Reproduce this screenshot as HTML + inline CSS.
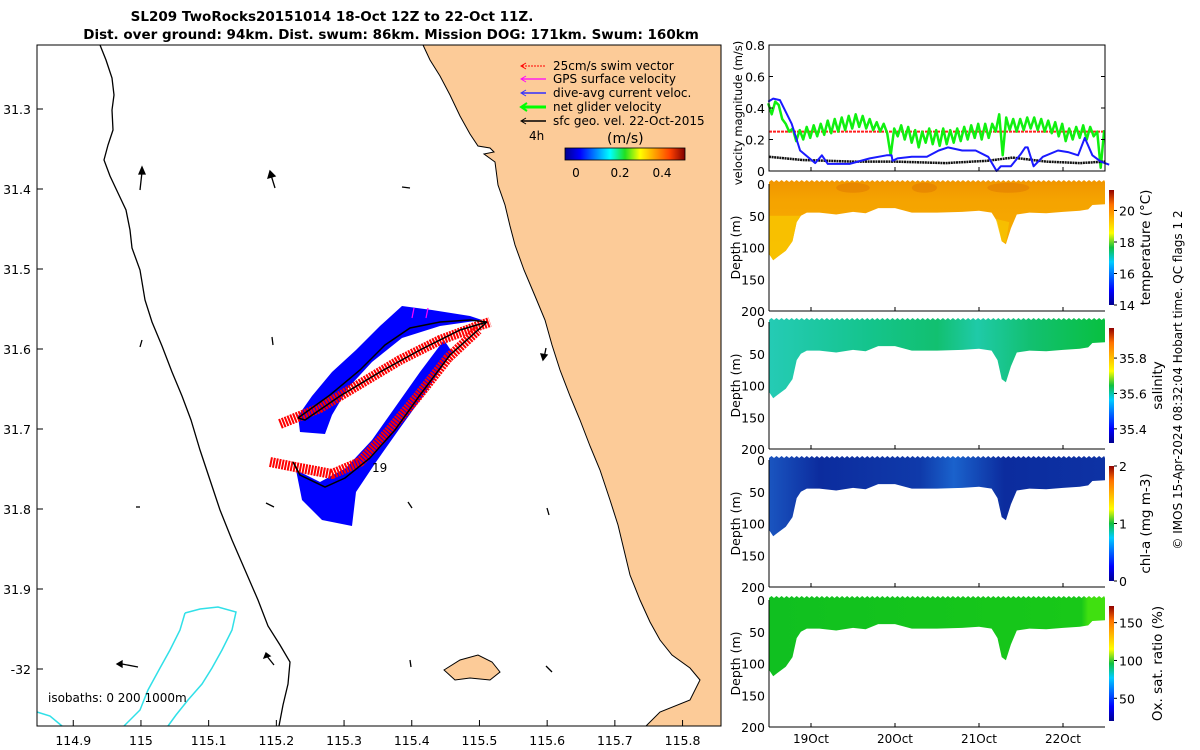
<!DOCTYPE html>
<html><head><meta charset="utf-8">
<style>
html,body{margin:0;padding:0;background:#fff;}
svg{display:block;font-family:"DejaVu Sans","Liberation Sans",sans-serif;}
</style></head>
<body>
<svg id="fig" width="1200" height="750" viewBox="0 0 1200 750">
<defs>
<linearGradient id="jet" x1="0" y1="0" x2="1" y2="0">
<stop offset="0" stop-color="#00008f"/><stop offset="0.125" stop-color="#0000ff"/><stop offset="0.375" stop-color="#00ffff"/><stop offset="0.5" stop-color="#20e020"/><stop offset="0.625" stop-color="#ffff00"/><stop offset="0.875" stop-color="#ff4000"/><stop offset="1" stop-color="#800000"/>
</linearGradient>
<linearGradient id="jetv" x1="0" y1="1" x2="0" y2="0">
<stop offset="0" stop-color="#00008f"/><stop offset="0.125" stop-color="#0000ff"/><stop offset="0.375" stop-color="#00ccff"/><stop offset="0.5" stop-color="#10c040"/><stop offset="0.625" stop-color="#ffff00"/><stop offset="0.875" stop-color="#ff7000"/><stop offset="1" stop-color="#900000"/>
</linearGradient>
<linearGradient id="gTemp" x1="0" y1="0" x2="0" y2="1"><stop offset="0" stop-color="#f09500"/><stop offset="0.25" stop-color="#f5a300"/><stop offset="1" stop-color="#f7ae00"/></linearGradient>
<linearGradient id="gSal" x1="0" y1="0" x2="1" y2="0"><stop offset="0" stop-color="#25cbb5"/><stop offset="0.3" stop-color="#14c48c"/><stop offset="0.5" stop-color="#12c070"/><stop offset="0.62" stop-color="#1fcaa8"/><stop offset="0.78" stop-color="#12c070"/><stop offset="1" stop-color="#08c040"/></linearGradient>
<linearGradient id="gChl" x1="0" y1="0" x2="1" y2="0"><stop offset="0" stop-color="#1a55c0"/><stop offset="0.15" stop-color="#0c2c9e"/><stop offset="0.45" stop-color="#0f3aaa"/><stop offset="0.55" stop-color="#1a62cc"/><stop offset="0.7" stop-color="#0c2c9e"/><stop offset="1" stop-color="#0d32a4"/></linearGradient>
<linearGradient id="gOx" x1="0" y1="0" x2="1" y2="0"><stop offset="0" stop-color="#10c020"/><stop offset="0.93" stop-color="#18c818"/><stop offset="0.95" stop-color="#40e010"/><stop offset="1" stop-color="#40e010"/></linearGradient>
</defs>

<text x="332" y="21" text-anchor="middle" font-size="13.5" font-weight="bold">SL209 TwoRocks20151014 18-Oct 12Z to 22-Oct 11Z.</text>
<text x="391" y="39" text-anchor="middle" font-size="13.5" font-weight="bold">Dist. over ground: 94km. Dist. swum: 86km. Mission DOG: 171km. Swum: 160km</text>

<g id="map">
<rect x="37" y="45" width="684" height="681" fill="#fff"/>
<path fill="#fccb98" stroke="#000" stroke-width="1" d="M423,45 L430,60 L440,76 L450,95 L460,116 L470,134 L478,146 L490,148 L494,152 L484,154 L495,162 L498,185 L505,205 L510,226 L515,245 L524,270 L535,296 L545,320 L552,345 L560,370 L570,396 L580,420 L590,446 L600,470 L610,500 L618,525 L624,550 L630,575 L640,600 L650,622 L660,640 L672,655 L690,668 L700,680 L690,700 L660,712 L646,726 L721,726 L721,45 Z"/>
<path fill="#fccb98" stroke="#000" stroke-width="1" d="M444,670 L460,660 L478,655 L492,662 L500,672 L490,680 L470,678 L455,680 Z"/>
<path fill="none" stroke="#000" stroke-width="1.3" d="M100,45 L106,60 L112,78 L114,95 L112,110 L113,130 L108,145 L104,160 L110,176 L118,193 L126,210 L130,230 L132,248 L140,270 L145,300 L152,322 L162,346 L172,372 L182,396 L191,420 L200,450 L210,480 L220,510 L232,540 L245,570 L258,600 L268,626 L280,645 L290,662 L288,684 L283,705 L279,726"/>
<path fill="none" stroke="#30e0e8" stroke-width="1.5" d="M185,613 L200,609 L218,607 L236,612 L232,630 L222,650 L212,668 L202,684 L188,700 L176,715 L168,726"/>
<path fill="none" stroke="#30e0e8" stroke-width="1.5" d="M185,613 L180,630 L170,650 L160,668 L148,690 L140,710 L124,726 M37,712 L50,716 L62,726"/>
<path fill="#0000ff" d="M300,432 L325,434 L332,415 L348,388 L372,362 L402,338 L440,326 L482,320 L470,316 L432,310 L402,306 L380,326 L356,350 L332,372 L312,396 L298,416 Z"/>
<path fill="#0000ff" d="M296,470 L302,500 L322,520 L352,526 L356,492 L376,462 L400,428 L426,392 L452,352 L444,340 L420,372 L396,406 L372,440 L346,468 L320,482 Z"/>
<path fill="none" stroke="#ff0000" stroke-width="10" stroke-dasharray="2,1" stroke-linejoin="round" d="M280,424 L320,408 L360,384 L400,360 L440,340 L478,326 L490,322"/>
<path fill="none" stroke="#ff0000" stroke-width="10" stroke-dasharray="2,1" stroke-linejoin="round" d="M270,462 L300,468 L332,474 L360,462 L388,432 L418,396 L448,358 L478,330"/>
<path fill="none" stroke="#000" stroke-width="1.5" d="M298,418 L330,395 L360,370 L385,345 L410,328 L440,322 L470,320 L487,322 L460,330 L420,350 L380,372 L340,396 L305,420 L298,418 M487,322 L450,355 L420,395 L395,430 L370,458 L345,478 L325,487 L300,475 L293,462"/>
<text x="372" y="472" font-size="12">19</text>
<path stroke="#ff00ff" stroke-width="1.2" fill="none" d="M412,318 L414,308 M426,318 L428,308"/>
<g stroke="#000" stroke-width="1.3" fill="#000">
<line x1="140" y1="190" x2="142" y2="172"/><polygon points="139,174 142,167 145,174"/>
<line x1="275" y1="188" x2="271" y2="175"/><polygon points="268,178 270,171 275,176"/>
<line x1="402" y1="187" x2="410" y2="188"/>
<line x1="140" y1="347" x2="142" y2="340"/>
<line x1="273" y1="345" x2="272" y2="337"/>
<line x1="544" y1="358" x2="546" y2="348"/><polygon points="541,354 543,360 547,355"/>
<line x1="136" y1="507" x2="140" y2="507"/>
<line x1="266" y1="503" x2="274" y2="507"/>
<line x1="408" y1="502" x2="412" y2="508"/>
<line x1="547" y1="508" x2="549" y2="515"/>
<line x1="410" y1="660" x2="411" y2="667"/>
<line x1="266" y1="655" x2="274" y2="665"/><polygon points="264,658 266,653 270,656"/>
<line x1="122" y1="664" x2="138" y2="667"/><polygon points="122,661 117,664 122,667"/>
<line x1="546" y1="666" x2="552" y2="672"/>
</g>
<text x="48" y="702" font-size="12">isobaths: 0   200  1000m</text>
<g font-size="12">
<line x1="522" y1="66" x2="546" y2="66" stroke="#ff0000" stroke-dasharray="2,1"/><polyline points="526,63 521,66 526,69" fill="none" stroke="#ff0000"/><text x="553" y="70">25cm/s swim vector</text>
<line x1="522" y1="79" x2="546" y2="79" stroke="#ff00ff" stroke-width="1.2"/><polyline points="526,76 521,79 526,82" fill="none" stroke="#ff00ff"/><text x="553" y="83">GPS surface velocity</text>
<line x1="522" y1="93" x2="546" y2="93" stroke="#3030ff" stroke-width="1.5"/><polyline points="526,90 521,93 526,96" fill="none" stroke="#3030ff"/><text x="553" y="97">dive-avg current veloc.</text>
<line x1="522" y1="107" x2="546" y2="107" stroke="#00ff00" stroke-width="3"/><polyline points="527,103 521,107 527,111" fill="none" stroke="#00ff00" stroke-width="2"/><text x="553" y="111">net glider velocity</text>
<line x1="522" y1="121" x2="546" y2="121" stroke="#000" stroke-width="1.5"/><polyline points="526,118 521,121 526,124" fill="none" stroke="#000"/><text x="553" y="125">sfc geo. vel. 22-Oct-2015</text>
<text x="529" y="140">4h</text>
<text x="607" y="143" font-size="14">(m/s)</text>
<rect x="565" y="148" width="120" height="12" fill="url(#jet)" stroke="#000" stroke-width="0.8"/>
<text x="576" y="177" text-anchor="middle">0</text><text x="620" y="177" text-anchor="middle">0.2</text><text x="662" y="177" text-anchor="middle">0.4</text>
</g>
<rect x="37" y="45" width="684" height="681" fill="none" stroke="#000" stroke-width="1"/>
<g id="mapTicks"></g>
</g>

<text transform="translate(1182,380) rotate(-90)" text-anchor="middle" font-size="12">© IMOS 15-Apr-2024 08:32:04 Hobart time. QC flags 1  2</text>

<g id="vel"></g>
<g id="secs"></g>
</svg>

<script>
const mapLonTicks=[114.9,115,115.1,115.2,115.3,115.4,115.5,115.6,115.7,115.8];
const mapLonLabels=["114.9","115","115.1","115.2","115.3","115.4","115.5","115.6","115.7","115.8"];
const mapLatTicks=[31.3,31.4,31.5,31.6,31.7,31.8,31.9,32.0];
const mapLatLabels=["31.3","31.4","31.5","31.6","31.7","31.8","31.9","-32"];

const velTicks=[0,0.2,0.4,0.6,0.8];
const velTickLabels=["0","0.2","0.4","0.6","0.8"];
const blueT=[18.49,18.55,18.63,18.77,18.87,19.05,19.13,19.2,19.46,19.7,19.9,19.96,19.97,20.03,20.2,20.38,20.52,20.63,20.8,20.96,21.11,21.21,21.26,21.38,21.5,21.55,21.58,21.65,21.76,21.94,22.06,22.18,22.26,22.35,22.45,22.55];
const blueV=[0.44,0.46,0.45,0.30,0.13,0.05,0.10,0.045,0.045,0.08,0.10,0.10,0.065,0.08,0.09,0.09,0.13,0.15,0.13,0.13,0.09,0.0,0.03,0.03,0.11,0.15,0.15,0.03,0.09,0.13,0.12,0.10,0.21,0.10,0.06,0.04];
const blackT=[18.5,18.9,19.5,20.0,20.6,21.1,21.4,21.8,22.2,22.5];
const blackV=[0.09,0.07,0.06,0.06,0.05,0.065,0.085,0.06,0.05,0.06];
const redT=[18.5,22.5];
const redV=[0.25,0.25];
const greenV=[0.43,0.36,0.44,0.42,0.33,0.3,0.25,0.27,0.19,0.26,0.2,0.28,0.21,0.29,0.22,0.3,0.23,0.32,0.24,0.33,0.25,0.34,0.26,0.35,0.27,0.36,0.28,0.35,0.27,0.33,0.26,0.31,0.25,0.3,0.24,0.1,0.27,0.22,0.29,0.2,0.28,0.18,0.26,0.15,0.25,0.18,0.27,0.17,0.26,0.16,0.27,0.17,0.26,0.18,0.27,0.19,0.28,0.2,0.29,0.21,0.3,0.2,0.3,0.21,0.3,0.25,0.36,0.1,0.34,0.26,0.33,0.25,0.33,0.26,0.34,0.27,0.34,0.26,0.33,0.25,0.32,0.24,0.31,0.22,0.3,0.19,0.27,0.2,0.28,0.21,0.29,0.2,0.28,0.22,0.25,0.02,0.26];
const greenStart=18.49, greenEnd=22.49;

const dayTicks=[19,20,21,22];
const dayLabels=["19Oct","20Oct","21Oct","22Oct"];
const depthTicks=[0,50,100,150,200];
const depT=[18.5,18.55,18.6,18.7,18.78,18.83,18.88,18.95,19.1,19.3,19.5,19.65,19.8,20.0,20.2,20.5,20.8,21.0,21.15,21.22,21.27,21.32,21.38,21.45,21.6,21.8,22.0,22.2,22.3,22.35,22.5];
const depB=[110,120,115,105,90,60,50,45,45,48,44,46,38,38,45,45,44,42,45,60,90,95,70,48,45,46,44,42,40,33,32];

const cbTemp=[14,16,18,20], cbTempRange=[14,21.3];
const cbSal=[35.4,35.6,35.8], cbSalRange=[35.32,35.97];
const cbChl=[0,1,2], cbChlRange=[0,2];
const cbOx=[50,100,150], cbOxRange=[20,172];

const NS="http://www.w3.org/2000/svg";
function mk(tag,parent,attrs){const e=document.createElementNS(NS,tag);for(const k in attrs)e.setAttribute(k,attrs[k]);parent.appendChild(e);return e;}
const lonX=l=>36.7+(l-114.846)/0.1*67.7;
const latY=a=>109+(a-31.3)/0.1*80;
const tX=t=>769+(t-18.5)*84;

const mt=document.getElementById('mapTicks');
mapLonTicks.forEach((l,i)=>{const x=lonX(l);
 const tk=mk('line',mt,{x1:x,y1:726,x2:x,y2:720,stroke:'#000'});
 
 
 const tx=mk('text',mt,{x:x,y:745,'text-anchor':'middle','font-size':12.5});tx.textContent=mapLonLabels[i];
 
 
});
mapLatTicks.forEach((a,i)=>{const y=latY(a);
 const tk=mk('line',mt,{x1:37,y1:y,x2:43,y2:y,stroke:'#000'});
 
 
 const tx=mk('text',mt,{x:31,y:y+5,'text-anchor':'end','font-size':12.5});tx.textContent=mapLatLabels[i];
 
 
});

const vg=document.getElementById('vel');
const vTop=45,vBot=171;
const vY=v=>vBot-v/0.8*(vBot-vTop);
mk('rect',vg,{x:769,y:vTop,width:336,height:vBot-vTop,fill:'#fff'});
function poly(ts,vs,color,w,name,dash){
 const pts=ts.map((t,i)=>tX(t).toFixed(1)+','+vY(vs[i]).toFixed(1)).join(' ');
 const p=mk('polyline',vg,{points:pts,fill:'none',stroke:color,'stroke-width':w,'stroke-linejoin':'round'});
 if(dash)p.setAttribute('stroke-dasharray',dash);
 
 
}
poly(redT,redV,'#ff2020',2,'swim-speed-line','3,1');
const greenT=greenV.map((v,i)=>greenStart+i*(greenEnd-greenStart)/(greenV.length-1));
poly(greenT,greenV,'#10f010',2.5,'net-glider-velocity-line');
poly(blackT,blackV,'#111',2.5,'geostrophic-velocity-line','2,0.6');
poly(blueT,blueV,'#1a1aff',2,'dive-avg-current-line');
const vf=mk('rect',vg,{x:769,y:vTop,width:336,height:vBot-vTop,fill:'none',stroke:'#000'});


velTicks.forEach((v,i)=>{const y=vY(v);
 mk('line',vg,{x1:769,y1:y,x2:773,y2:y,stroke:'#000'});
 mk('line',vg,{x1:1105,y1:y,x2:1101,y2:y,stroke:'#000'});
 const tx=mk('text',vg,{x:765,y:y+5,'text-anchor':'end','font-size':12.5});tx.textContent=velTickLabels[i];
 
 
});
dayTicks.forEach(d=>{mk('line',vg,{x1:tX(d),y1:vBot,x2:tX(d),y2:vBot-4,stroke:'#000'});});
const vl=mk('text',vg,{transform:'translate(742,113) rotate(-90)','text-anchor':'middle','font-size':11.5});
vl.textContent='velocity magnitude (m/s)';



const sg=document.getElementById('secs');
const panels=[
 {y0:184,fill:'url(#gTemp)',title:'temperature (°C)',ticks:cbTemp,range:cbTempRange,name:'temperature',tx:1150},
 {y0:322,fill:'url(#gSal)',title:'salinity',ticks:cbSal,range:cbSalRange,name:'salinity',tx:1162},
 {y0:460,fill:'url(#gChl)',title:'chl-a (mg m-3)',ticks:cbChl,range:cbChlRange,name:'chlorophyll',tx:1150},
 {y0:600,fill:'url(#gOx)',title:'Ox. sat. ratio (%)',ticks:cbOx,range:cbOxRange,name:'oxygen',tx:1162}
];
const H=127;
panels.forEach((p,pi)=>{
 const g=mk('g',sg,{});
 
 
 const dY=d=>p.y0+d/200*H;
 let pts=[tX(depT[0])+','+(dY(0)-2)];
 for(let t=depT[0];t<=depT[depT.length-1];t+=0.06){pts.push(tX(t).toFixed(1)+','+(dY(0)-2).toFixed(1));pts.push((tX(t)+2.5).toFixed(1)+','+(dY(0)-4).toFixed(1));}
 pts.push(tX(depT[depT.length-1])+','+(dY(0)-2));
 for(let i=depT.length-1;i>=0;i--)pts.push(tX(depT[i]).toFixed(1)+','+dY(depB[i]).toFixed(1));
 const sec=mk('polygon',g,{points:pts.join(' '),fill:p.fill});
 
 
 if(pi===0){
  const deep=[];for(let i=0;i<8;i++)deep.push(tX(depT[i]).toFixed(1)+','+dY(depB[i]).toFixed(1));
  deep.push(tX(18.88)+','+dY(50));deep.push(tX(18.5)+','+dY(50));
  const dp=mk('polygon',g,{points:deep.join(' '),fill:'#f8c400',opacity:0.85});
  
  
  const dip=[tX(21.2)+','+dY(55),tX(21.27)+','+dY(90),tX(21.32)+','+dY(92),tX(21.36)+','+dY(60)];
  mk('polygon',g,{points:dip.join(' '),fill:'#f8c400',opacity:0.8});
  [[19.3,19.7],[20.2,20.5],[21.1,21.6]].forEach(r=>{
   mk('ellipse',g,{cx:tX((r[0]+r[1])/2),cy:dY(6),rx:(r[1]-r[0])*42,ry:5,fill:'#e07a00',opacity:0.55});
  });
 }
 mk('line',g,{x1:769,y1:p.y0,x2:769,y2:p.y0+H,stroke:'#000'});
 mk('line',g,{x1:769,y1:p.y0+H,x2:1105,y2:p.y0+H,stroke:'#000'});
 depthTicks.forEach(d=>{
  const tx=mk('text',g,{x:765,y:dY(d)+5,'text-anchor':'end','font-size':12.5});tx.textContent=String(d);
  
  
 });
 dayTicks.forEach(d=>{mk('line',g,{x1:tX(d),y1:p.y0+H,x2:tX(d),y2:p.y0+H-4,stroke:'#000'});});
 const yl=mk('text',g,{transform:'translate('+740+','+(p.y0+H/2)+') rotate(-90)','text-anchor':'middle','font-size':12.5});
 yl.textContent='Depth (m)';
 
 
 const cbTop=p.y0+6,cbBot=p.y0+H-6;
 const cb=mk('rect',g,{x:1109,y:cbTop,width:5,height:cbBot-cbTop,fill:'url(#jetv)'});
 
 
 const cY=v=>cbBot-(v-p.range[0])/(p.range[1]-p.range[0])*(cbBot-cbTop);
 p.ticks.forEach(v=>{const y=cY(v);
  mk('line',g,{x1:1114,y1:y,x2:1117,y2:y,stroke:'#000'});
  const tx=mk('text',g,{x:1119,y:y+5,'font-size':12.5});tx.textContent=String(v);
  
  
 });
 const ct=mk('text',g,{transform:'translate('+p.tx+','+(p.y0+H/2)+') rotate(-90)','text-anchor':'middle','font-size':13.5});
 ct.textContent=p.title;
 
 
 if(pi===3){
  dayTicks.forEach((d,i)=>{
   const tx=mk('text',g,{x:tX(d),y:743,'text-anchor':'middle','font-size':12});tx.textContent=dayLabels[i];
   
   
  });
 }
});
</script>
</body></html>
